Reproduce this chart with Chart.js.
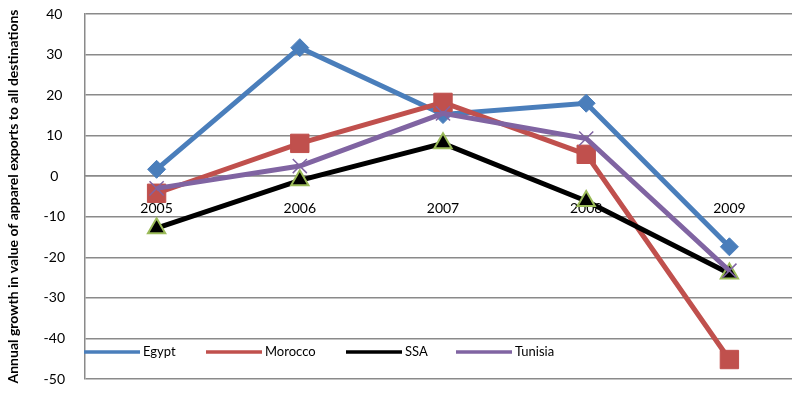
<!DOCTYPE html>
<html>
<head>
<meta charset="utf-8">
<script src="https://cdn.jsdelivr.net/npm/chart.js@4/dist/chart.umd.min.js"></script>
<style>
  html, body { margin: 0; padding: 0; background: #fff; overflow: hidden; }
  canvas { display: block; }
</style>
</head>
<body>
<canvas id="growthChart" width="815" height="401"></canvas>
<script>
const years = ['2005', '2006', '2007', '2008', '2009'];
const egypt = [1.7, 31.7, 15.2, 18.0, -17.4];
const morocco = [-4.2, 8.1, 18.2, 5.4, -45.2];
const ssa = [-12.8, -1.0, 8.1, -6.1, -24.0];
const tunisia = [-3.0, 2.5, 15.5, 9.3, -23.3];
const yTicks = [40, 30, 20, 10, 0, -10, -20, -30, -40, -50];

const FONT = 'Lato, "Liberation Sans", sans-serif';
const GRID = '#8a8a8a';

// excel-like legend drawn inside the plot, near the bottom
const legendPlugin = {
    id: 'insideLegend',
    afterDraw(chart) {
        const ctx = chart.ctx;
        const area = chart.chartArea;
        const y = area.bottom - 27;
        const items = [
            { ds: 0, x: area.left - 1 },
            { ds: 1, x: area.left + 121 },
            { ds: 2, x: area.left + 261 },
            { ds: 3, x: area.left + 371 }
        ];
        ctx.save();
        items.forEach(it => {
            const d = chart.data.datasets[it.ds];
            ctx.strokeStyle = d.borderColor;
            ctx.lineWidth = 3.5;
            ctx.beginPath();
            ctx.moveTo(it.x, y);
            ctx.lineTo(it.x + 56, y);
            ctx.stroke();
            ctx.fillStyle = d.pointBackgroundColor;
            ctx.strokeStyle = d.pointBorderColor;
            Chart.helpers.drawPoint(ctx, {
                pointStyle: d.pointStyle,
                rotation: 0,
                borderWidth: d.pointBorderWidth
            }, it.x + 28, y);
            ctx.fillStyle = '#000';
            ctx.font = '13px ' + FONT;
            ctx.textBaseline = 'middle';
            ctx.textAlign = 'left';
            ctx.fillText(d.label, it.x + 59, y);
        });
        ctx.restore();
    }
};

new Chart(document.getElementById('growthChart'), {
    type: 'line',
    data: {
        labels: years,
        datasets: [
            {
                label: 'Egypt', data: egypt, order: 4,
                borderColor: '#4a7ebb', borderWidth: 5,
                pointStyle: 'rectRot', pointRadius: 9,
                pointBackgroundColor: '#4a7ebb', pointBorderColor: '#4a7ebb', pointBorderWidth: 1
            },
            {
                label: 'Morocco', data: morocco, order: 3,
                borderColor: '#c0504d', borderWidth: 5,
                pointStyle: 'rect', pointRadius: 13,
                pointBackgroundColor: '#c0504d', pointBorderColor: '#c0504d', pointBorderWidth: 1
            },
            {
                label: 'SSA', data: ssa, order: 2,
                borderColor: '#000000', borderWidth: 5,
                pointStyle: 'triangle', pointRadius: 10,
                pointBackgroundColor: '#000000', pointBorderColor: '#9bbb59', pointBorderWidth: 2
            },
            {
                label: 'Tunisia', data: tunisia, order: 1,
                borderColor: '#8064a2', borderWidth: 5,
                pointStyle: 'crossRot', pointRadius: 10,
                pointBackgroundColor: '#8064a2', pointBorderColor: '#8064a2', pointBorderWidth: 1.5
            }
        ]
    },
    options: {
        responsive: false,
        animation: false,
        devicePixelRatio: 1,
        layout: { padding: { top: 13, bottom: 22, left: 0, right: 0 } },
        plugins: {
            legend: { display: false },
            tooltip: { enabled: false }
        },
        scales: {
            x: {
                type: 'category',
                position: { y: 0 },
                offset: true,
                grid: { display: false, drawTicks: false },
                border: { color: GRID, width: 1.5 },
                ticks: { color: '#000', font: { family: FONT, size: 14 }, padding: 24 },
                afterFit(scale) {
                    scale.height = 0;
                    scale.paddingLeft = 0;
                    scale.paddingRight = 0;
                }
            },
            y: {
                min: -50, max: 40,
                afterBuildTicks(scale) { scale.ticks = yTicks.map(v => ({ value: v })); },
                afterFit(scale) {
                    scale.width = 85;
                    scale.paddingTop = 0;
                    scale.paddingBottom = 0;
                },
                grid: { color: GRID, lineWidth: 1.5, drawTicks: false },
                border: { color: GRID, width: 1.5 },
                ticks: {
                    color: '#000', font: { family: FONT, size: 14 },
                    padding: 20, crossAlign: 'center'
                },
                title: {
                    display: true,
                    text: 'Annual growth in value of apparel exports to all destinations',
                    color: '#000',
                    font: { family: FONT, size: 14, weight: 'bold' },
                    padding: { top: 5, bottom: 0 }
                }
            }
        }
    },
    plugins: [legendPlugin]
});
</script>
</body>
</html>
